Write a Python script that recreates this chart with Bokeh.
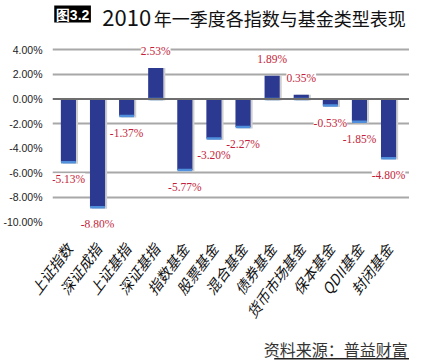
from bokeh.plotting import figure
from bokeh.layouts import column
from bokeh.models import ColumnDataSource, LabelSet, Range1d, FixedTicker, Span
from bokeh.core.properties import value
from bokeh.embed import file_html
from bokeh.resources import INLINE

categories = ["上证指数", "深证成指", "上证基指", "深证基指", "指数基金", "股票基金",
              "混合基金", "债券基金", "货币市场基金", "保本基金", "QDII基金", "封闭基金"]
values = [-5.13, -8.80, -1.37, 2.53, -5.77, -3.20, -2.27, 1.89, 0.35, -0.53, -1.85, -4.80]
y_ticks = [4, 2, 0, -2, -4, -6, -8, -10]
y_tick_labels = ["4.00%", "2.00%", "0.00%", "-2.00%", "-4.00%", "-6.00%", "-8.00%", "-10.00%"]
title_tag = "图3.2"
title_year = "2010"
title_rest = "年一季度各指数与基金类型表现"
source_text = "资料来源：普益财富"

W = 409
BAR = "#2b3990"
RED = "#c41e3a"


def blank(h):
    f = figure(width=W, height=h, output_backend="svg", toolbar_location=None,
               x_range=Range1d(0, W), y_range=Range1d(h, 0),
               x_axis_location=None, y_axis_location=None,
               min_border=0, min_border_left=0, min_border_right=0,
               min_border_top=0, min_border_bottom=0)
    f.outline_line_color = None
    f.grid.visible = False
    return f


# ---------- header ----------
HH = 42
head = blank(HH)
head.quad(left=[2], right=[44], top=[5], bottom=[22], fill_color="black", line_color=None)
head.text(x=[23], y=[14], text=[title_tag], text_color="white", text_font=value("Liberation Sans"),
          text_font_style="bold", text_font_size="14px", text_align="center",
          text_baseline="middle")
head.text(x=[57], y=[17], text=[title_year], text_color="#111111",
          text_font=value("Noto Sans CJK SC"), text_font_size="22px",
          text_baseline="middle")
head.text(x=[116], y=[17], text=[title_rest], text_color="#111111",
          text_font=value("Noto Sans CJK SC"), text_font_size="18px",
          text_baseline="middle")

# ---------- main chart ----------
xs = list(range(len(categories)))
bottoms = [min(v, 0) for v in values]
tops = [max(v, 0) for v in values]
src = ColumnDataSource(dict(
    x=xs, top=tops, bottom=bottoms, val=values,
    sx=[x + 0.07 for x in xs], sb=[b - 0.12 for b in bottoms],
    lab=[f"{v:.2f}%" for v in values],
    off=[17 if v > 0 else -17 for v in values],
))
hl = ColumnDataSource(dict(x0=[x - 0.255 for x in xs], x1=[x + 0.255 for x in xs], y=bottoms))

MH = 288
p = figure(width=W, height=MH, output_backend="svg", toolbar_location=None,
           x_range=Range1d(-0.547, 11.72), y_range=Range1d(-10.44, 4.6),
           min_border_left=45, min_border_right=0, min_border_top=0, min_border_bottom=84)
p.outline_line_color = None

p.xgrid.visible = False
p.ygrid.ticker = FixedTicker(ticks=[t for t in y_ticks if t not in (0, -4, -10)])
p.ygrid.grid_line_color = "#a8a8a8"
p.ygrid.grid_line_width = 2
p.add_layout(Span(location=0, dimension="width", line_color="#6e6e6e", line_width=2))

p.vbar(x="sx", top="top", bottom="sb", width=0.52, source=src,
       fill_color="#cfcfcf", line_color=None)
p.vbar(x="x", top="top", bottom="bottom", width=0.52, source=src,
       fill_color=BAR, line_color=None)
p.segment(x0="x0", x1="x1", y0="y", y1="y", source=hl, line_color="#4f8fdc", line_width=2.5)

labels = LabelSet(x="x", y="val", text="lab", source=src, y_offset="off",
                  text_align="center", text_baseline="middle", text_color=RED,
                  text_font="Liberation Serif", text_font_size="11.5px",
                  background_fill_color="white")
p.add_layout(labels)

p.yaxis.ticker = FixedTicker(ticks=y_ticks)
p.yaxis.major_label_overrides = {t: l for t, l in zip(y_ticks, y_tick_labels)}
p.yaxis.axis_line_color = None
p.yaxis.major_tick_line_color = None
p.yaxis.minor_tick_line_color = None
p.yaxis.major_label_standoff = 4
p.yaxis.major_label_text_font = "Liberation Sans"
p.yaxis.major_label_text_font_size = "10.5px"
p.yaxis.major_label_text_color = "#222222"

p.xaxis.ticker = FixedTicker(ticks=xs)
p.xaxis.major_label_overrides = {x: c for x, c in zip(xs, categories)}
p.xaxis.axis_line_color = None
p.xaxis.major_tick_line_color = None
p.xaxis.minor_tick_line_color = None
p.xaxis.major_label_orientation = 0.93
p.xaxis.major_label_standoff = 12
p.xaxis.major_label_text_font = "Noto Sans CJK SC"
p.xaxis.major_label_text_font_style = "italic"
p.xaxis.major_label_text_font_size = "14.5px"
p.xaxis.major_label_text_color = "#111111"

# ---------- footer ----------
FH = 30
foot = blank(FH)
foot.text(x=[407], y=[18], text=[source_text], text_color="#333333",
          text_font=value("Noto Sans CJK SC"), text_font_size="16px",
          text_align="right", text_baseline="middle")
foot.quad(left=[254], right=[409], top=[27.5], bottom=[29], fill_color="#222222",
          line_color=None)

layout = column(head, p, foot, spacing=0)
open("out.html", "w").write(file_html(layout, INLINE))
